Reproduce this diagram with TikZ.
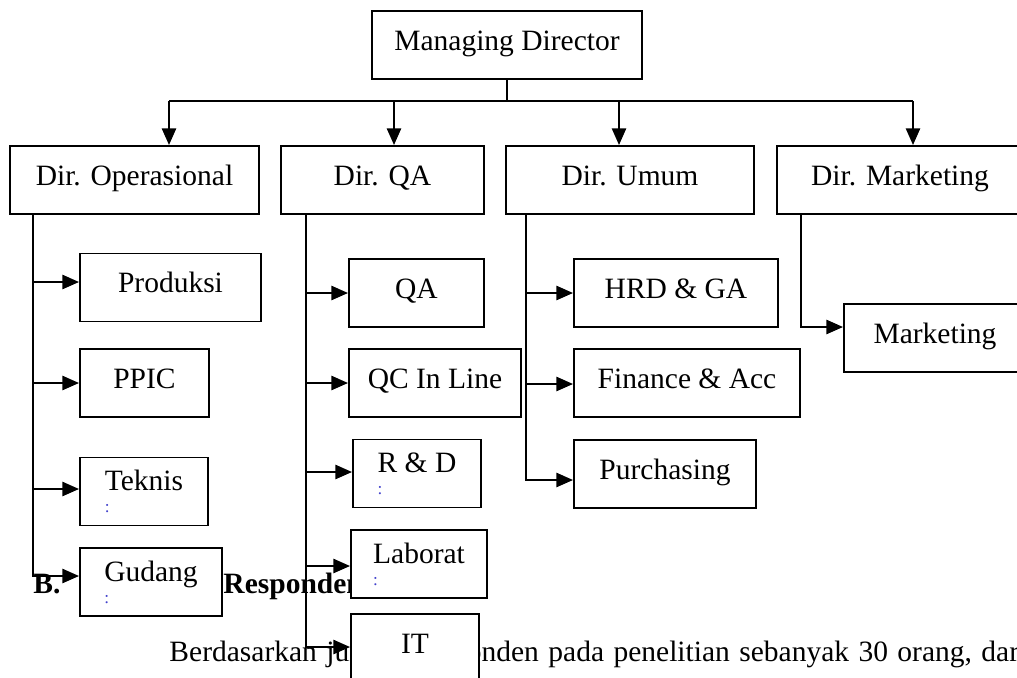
\documentclass[tikz,border=0pt]{standalone}
\usepackage{fontspec}
\setmainfont{Liberation Serif}
\usetikzlibrary{arrows.meta,calc}
\definecolor{linkblue}{rgb}{.25,.25,.8}
\newcommand{\boxfont}{\fontsize{12pt}{14pt}\selectfont}
\newcommand{\linkmark}{{\scriptsize\color{linkblue}:}}

\begin{document}
\begin{tikzpicture}[x = 0.4068pt, y = -0.4068pt, font = \boxfont,
	box/.style = {draw, fill=white, line width=.8pt, inner sep=0pt, minimum height=68*0.4068pt,
		text height=8.4pt, text depth=4.2pt},
	boxw/.style = {minimum width=#1*0.4068pt},
	twoline/.style = {align=left, text height={}, text depth={}},
	link/.style = {line width=.8pt},
	arr/.style = {line width=.8pt, -{Triangle[length=6.8pt, width=5.8pt]}},
	txt/.style = {inner sep=0pt, anchor=base west}]
	
	\useasboundingbox (0,0) rectangle (1017,678);
	\clip (0,0) rectangle (1017,678);
	
	\node[txt, font=\boxfont\bfseries] (secb) at (33,593) {B.};
	\node[txt, font=\boxfont\bfseries] (sect) at (223,593) {Responden};
	\node[txt] (para) at (169,661) {\spaceskip=.32em Berdasarkan jumlah responden pada penelitian sebanyak 30 orang, dari};
	
	\node[box, boxw=270] (md) at (507,45) {Managing Director};
	
	\node[box, boxw=249] (dop) at (134.5,180) {Dir. Operasional};
	\node[box, boxw=203] (dqa) at (382.5,180) {Dir. QA};
	\node[box, boxw=248] (dum) at (630,180) {Dir. Umum};
	\node[box, boxw=246] (dmk) at (900,180) {Dir. Marketing};
	
	\node[box, boxw=181] (prod) at (170.5,287.5) {Produksi};
	\node[box, boxw=129] (ppic) at (144.5,383) {PPIC};
	\node[box, boxw=128, twoline] (tek) at (144,491.5) {Teknis\\[-5pt]\linkmark};
	\node[box, boxw=142, twoline] (gud) at (151,582) {Gudang\\[-5pt]\linkmark};
	
	\node[box, boxw=135] (qa) at (416.5,293) {QA};
	\node[box, boxw=172] (qc) at (435,383) {QC In Line};
	\node[box, boxw=128, twoline] (rnd) at (417,473.5) {R \& D\\[-5pt]\linkmark};
	\node[box, boxw=136, twoline] (lab) at (419,564) {Laborat\\[-5pt]\linkmark};
	\node[box, boxw=128] (it) at (415,648) {IT};
	
	\node[box, boxw=204] (hrd) at (676,293) {HRD \& GA};
	\node[box, boxw=226] (fin) at (687,383) {Finance \& Acc};
	\node[box, boxw=182] (pur) at (665,474) {Purchasing};
	
	\node[box, boxw=182] (mkt) at (935,338) {Marketing};
	
	\coordinate (b1) at (169,101);
	\coordinate (b2) at (394,101);
	\coordinate (b3) at (619,101);
	\coordinate (b4) at (913,101);
	\draw[link] (md.south) -- (md.south |- b1);
	\draw[link] (b1) -- (b4);
	\foreach \b/\n in {b1/dop, b2/dqa, b3/dum, b4/dmk}
		\draw[arr] (\b) -- (\b |- \n.north);
	
	\coordinate (t1) at (33,214);
	\coordinate (t2) at (306,214);
	\coordinate (t3) at (526,214);
	\coordinate (t4) at (801,214);
	\foreach \n/\d in {prod/-5.5, ppic/0, tek/-2.5, gud/-6}
		\draw[arr] (t1) |- ($(\n.west)+(0,\d)$);
	\foreach \n/\d in {qa/0, qc/0, rnd/-1.5, lab/2, it/-1}
		\draw[arr] (t2) |- ($(\n.west)+(0,\d)$);
	\foreach \n/\d in {hrd/0, fin/1, pur/6}
		\draw[arr] (t3) |- ($(\n.west)+(0,\d)$);
	\draw[arr] (t4) |- ($(mkt.west)+(0,-11)$);
	
\end{tikzpicture}
\end{document}
